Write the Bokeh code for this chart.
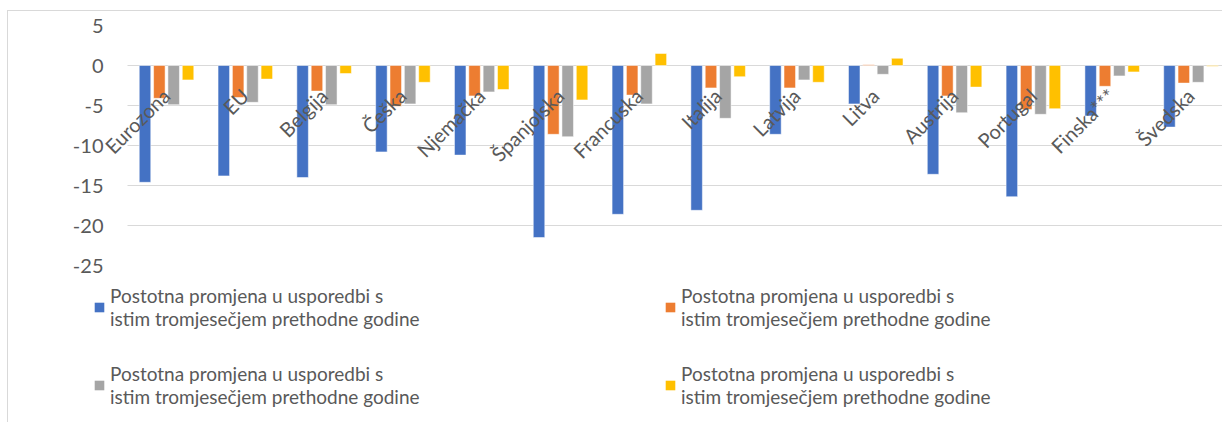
import math
from bokeh.plotting import figure
from bokeh.layouts import column
from bokeh.models import ColumnDataSource, Legend, LegendItem, FixedTicker, Range1d, Grid
from bokeh.transform import dodge
from bokeh.core.properties import value
from bokeh.embed import file_html
from bokeh.resources import INLINE

countries = ["Eurozona", "EU", "Belgija", "Češka", "Njemačka", "Španjolska", "Francuska",
             "Italija", "Latvija", "Litva", "Austrija", "Portugal", "Finska***", "Švedska"]
s1 = [-14.6, -13.8, -14.0, -10.8, -11.2, -21.5, -18.6, -18.1, -8.6, -4.8, -13.6, -16.4, -6.3, -7.7]
s2 = [-4.1, -4.0, -3.2, -5.1, -3.8, -8.6, -3.7, -2.8, -2.8, 0.1, -3.8, -5.5, -2.6, -2.2]
s3 = [-4.9, -4.6, -4.9, -4.8, -3.3, -8.9, -4.8, -6.6, -1.8, -1.1, -5.9, -6.1, -1.3, -2.1]
s4 = [-1.8, -1.7, -1.0, -2.1, -3.0, -4.3, 1.5, -1.4, -2.1, 0.9, -2.7, -5.4, -0.8, -0.1]
series_labels = ["Postotna promjena u usporedbi s\nistim tromjesečjem prethodne godine"] * 4
colors = ["#4472C4", "#ED7D31", "#A5A5A5", "#FFC000"]
y_ticks = [5, 0, -5, -10, -15, -20, -25]

TEXT = "#595959"
GRID = "#d9d9d9"
LINE = "linear-gradient(#d9d9d9, #d9d9d9)"
# thin chart-area border (left and top) painted behind transparent canvases
STYLE_TOP = {"background": f"{LINE} 7px 10px / 1px 100% no-repeat, {LINE} 7px 10px / 100% 1px no-repeat, white"}
STYLE_BOTTOM = {"background": f"{LINE} 7px 0px / 1px 100% no-repeat, white"}

n = len(countries)
xpos = [i + 0.5 for i in range(n)]          # category slots on the x scale
src = ColumnDataSource(dict(x=xpos, name=countries, s1=s1, s2=s2, s3=s3, s4=s4, zero=[0] * n))

x_end = n - 0.1
p = figure(x_range=Range1d(-0.49, x_end), y_range=(-25, 5), width=1222, height=280,
           output_backend="svg", toolbar_location=None,
           min_border_left=88, min_border_right=0, min_border_top=25, min_border_bottom=15)
p.styles = STYLE_TOP
p.border_fill_alpha = 0
p.background_fill_alpha = 0

# horizontal gridlines, starting at the first category slot
p.xgrid.grid_line_color = None
if "cross_bounds" in Grid.properties():
    p.ygrid.cross_bounds = (0, x_end)
    p.ygrid.grid_line_color = GRID
else:
    p.ygrid.grid_line_color = None
    p.segment(x0=[0] * len(y_ticks), x1=[x_end] * len(y_ticks), y0=y_ticks, y1=y_ticks,
              line_color=GRID, line_width=1)

offsets = [-0.273, -0.091, 0.091, 0.273]
for key, off, c in zip(["s1", "s2", "s3", "s4"], offsets, colors):
    p.vbar(x=dodge("x", off), top=key, bottom=0, width=0.146,
           source=src, fill_color=c, line_color="white", line_width=0.5)

# category labels hanging from the zero line, rotated 45 degrees
p.text(x="x", y="zero", text="name", source=src, angle=math.pi / 4,
       text_align="right", text_baseline="top", x_offset=-9, y_offset=18,
       text_font=value("Lato"), text_font_size="20px", text_color=TEXT)

p.xaxis.visible = False
p.yaxis.ticker = FixedTicker(ticks=y_ticks)
p.yaxis.major_label_overrides = {t: str(t) for t in y_ticks}
p.yaxis.axis_line_color = None
p.yaxis.major_tick_line_color = None
p.yaxis.minor_tick_line_color = None
p.yaxis.major_tick_out = 0
p.yaxis.major_label_standoff = -15
p.yaxis.major_label_text_font = "Lato"
p.yaxis.major_label_text_font_size = "20px"
p.yaxis.major_label_text_color = TEXT
p.outline_line_color = None

# legend panel (its frame is aligned with the chart's frame by the column layout)
p2 = figure(width=1222, height=142, output_backend="svg", toolbar_location=None,
            x_range=Range1d(0, 1), y_range=Range1d(0, 1),
            min_border_left=0, min_border_right=0, min_border_top=0, min_border_bottom=0)
p2.styles = STYLE_BOTTOM
p2.border_fill_alpha = 0
p2.background_fill_alpha = 0
p2.axis.visible = False
p2.grid.visible = False
p2.outline_line_color = None
# swatch renderers for the legend keys (zero-height, off-range, so nothing shows in the plot)
swatches = [p2.vbar(x=[-10], top=[0], bottom=[0], width=0.1, fill_color=c, line_color=None)
            for c in colors]

legend = Legend(items=[LegendItem(label=lab, renderers=[r]) for lab, r in zip(series_labels, swatches)],
                orientation="horizontal", ncols=2,
                label_text_font="Lato", label_text_font_size="19px", label_text_color=TEXT,
                glyph_width=12, glyph_height=12, label_standoff=5, label_width=522,
                spacing=32, padding=0, margin=0, border_line_color=None,
                background_fill_alpha=0, location=(5, 14))
p2.add_layout(legend, "center")

layout = column(p, p2, spacing=0)
open("out.html", "w").write(file_html(layout, INLINE))
